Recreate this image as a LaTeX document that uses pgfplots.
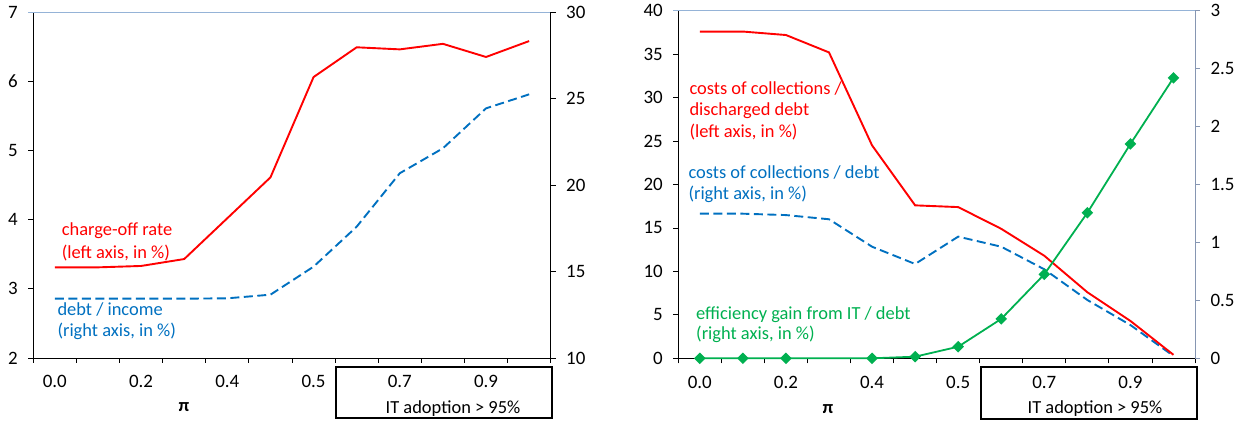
\documentclass[border=0pt]{standalone}
\usepackage{fontspec}
\setmainfont{Carlito}
\usepackage{pgfplots}
\pgfplotsset{compat=1.18}
\definecolor{cred}{RGB}{255,0,0}
\definecolor{cblue}{RGB}{0,112,192}
\definecolor{cgreen}{RGB}{0,176,80}
\definecolor{cframe}{RGB}{149,179,215}
\definecolor{cgray}{RGB}{134,150,178}

\pgfplotsset{
 base/.style={
   scale only axis, height=346bp,
   xmin=-0.5, xmax=11.5,
   tick align=outside,
   major tick length=5bp,
   tick style={black, line width=0.8bp},
   axis line style={line width=0.9bp},
   ticklabel style={font=\fontsize{19}{22}\selectfont},
   xticklabel style={yshift=-14bp},
   /pgf/number format/assume math mode=true,
   clip=false,
 },
 xcat/.style={
   axis x line*=bottom,
   xtick={-0.5,0.5,...,11.5}, xticklabels={},
   extra x ticks={0,2,4,6,8,10},
   extra x tick labels={0.0,0.2,0.4,0.5,0.7,0.9},
   extra x tick style={major tick length=0pt, tick style={draw=none}},
 },
 lefty/.style={axis y line*=left, yticklabel style={xshift=-7bp}},
 righty/.style={axis x line=none, axis y line*=right, yticklabel style={xshift=7bp}},
}

\begin{document}
\begin{tikzpicture}
\path (0,0) rectangle (1249bp,421bp);

% ---------------- left panel ----------------
\begin{axis}[base, xcat, lefty, width=517.4bp, at={(33.3bp,63bp)},
  ymin=2, ymax=7, ytick={2,3,4,5,6,7},
]
\draw[cframe, line width=0.9bp] (rel axis cs:-0.01,1) -- (rel axis cs:1,1);
\addplot[cred, line width=1.9bp] coordinates {
 (0,3.31) (1,3.31) (2,3.33) (3,3.43) (4,4.02) (5,4.61)
 (6,6.06) (7,6.49) (8,6.46) (9,6.54) (10,6.35) (11,6.58)};
\end{axis}
\begin{axis}[base, righty, width=517.4bp, at={(33.3bp,63bp)},
  ymin=10, ymax=30, ytick={10,15,20,25,30},
]
\addplot[cblue, line width=1.9bp, dash pattern=on 9bp off 4.5bp] coordinates {
 (0,13.43) (1,13.43) (2,13.43) (3,13.43) (4,13.45) (5,13.66)
 (6,15.28) (7,17.59) (8,20.68) (9,22.12) (10,24.43) (11,25.24)};
\end{axis}

% ---------------- right panel ----------------
\begin{axis}[base, xcat, lefty, width=516.7bp, at={(678.3bp,62.7bp)}, height=347.6bp,
  ymin=0, ymax=40, ytick={0,5,...,40},
]
\draw[cframe, line width=0.9bp] (rel axis cs:-0.01,1) -- (rel axis cs:1,1);
\end{axis}
\begin{axis}[base, righty, width=516.7bp, at={(678.3bp,62.7bp)}, height=347.6bp,
  y axis line style={cgray},
  ytick style={cgray},
  ymin=0, ymax=3, ytick={0,0.5,...,3},
  yticklabels={0,0.5,1,1.5,2,2.5,3},
]
\addplot[cblue, line width=1.9bp, dash pattern=on 9bp off 4.5bp] coordinates {
 (0,1.248) (1,1.248) (2,1.236) (3,1.200) (4,0.963) (5,0.814)
 (6,1.050) (7,0.963) (8,0.768) (9,0.503) (10,0.287) (11,0.02)};
\end{axis}
\begin{axis}[base, width=516.7bp, at={(678.3bp,62.7bp)}, height=347.6bp,
  axis x line=none, axis y line=none,
  ymin=0, ymax=40,
]
\addplot[cred, line width=1.9bp] coordinates {
 (0,37.6) (1,37.6) (2,37.2) (3,35.2) (4,24.5) (5,17.6)
 (6,17.4) (7,14.9) (8,11.8) (9,7.6) (10,4.3) (11,0.4)};
\end{axis}
\begin{axis}[base, width=516.7bp, at={(678.3bp,62.7bp)}, height=347.6bp,
  axis x line=none, axis y line=none,
  ymin=0, ymax=3,
]
\addplot[cgreen, line width=1.8bp, mark=square*, mark size=3.2bp,
  mark options={solid, fill=cgreen, rotate=45}] coordinates {
 (0,0) (1,0) (2,0) (4,0) (5,0.014)
 (6,0.10) (7,0.34) (8,0.725) (9,1.256) (10,1.85) (11,2.42)};
\end{axis}

% ---------------- annotations ----------------
\begin{scope}[every node/.style={inner sep=0pt, font=\fontsize{18.5}{22}\selectfont}]
\node[anchor=base west, text=cred] at (61.7bp,185bp) {charge-off rate};
\node[anchor=base west, text=cred] at (61.7bp,162.7bp) {(left axis, in \%)};
\node[anchor=base west, text=cblue] at (57.3bp,105bp) {debt / income};
\node[anchor=base west, text=cblue] at (57.3bp,84bp) {(right axis, in \%)};

\node[anchor=base west, text=cred] at (689.3bp,326.7bp) {costs of collections /};
\node[anchor=base west, text=cred] at (689.3bp,305bp) {discharged debt};
\node[anchor=base west, text=cred] at (689.3bp,283.7bp) {(left axis, in \%)};
\node[anchor=base west, text=cblue] at (688.3bp,242.7bp) {costs of collections / debt};
\node[anchor=base west, text=cblue] at (688.3bp,221.7bp) {(right axis, in \%)};
\node[anchor=base west, text=cgreen] at (696bp,101.7bp) {efficiency gain from IT / debt};
\node[anchor=base west, text=cgreen] at (696bp,81bp) {(right axis, in \%)};

\node[font=\bfseries\fontsize{18.5}{22}\selectfont] at (184bp,14bp) {π};
\node[font=\bfseries\fontsize{18.5}{22}\selectfont] at (828bp,12bp) {π};

\draw[black, line width=1.8bp] (336bp,54bp) rectangle (552bp,3bp);
\draw[black, line width=1.8bp] (981bp,54bp) rectangle (1197bp,2bp);
\node[anchor=base] at (453bp,8bp) {IT adoption > 95\%};
\node[anchor=base] at (1095bp,8bp) {IT adoption > 95\%};
\end{scope}
\end{tikzpicture}
\end{document}
